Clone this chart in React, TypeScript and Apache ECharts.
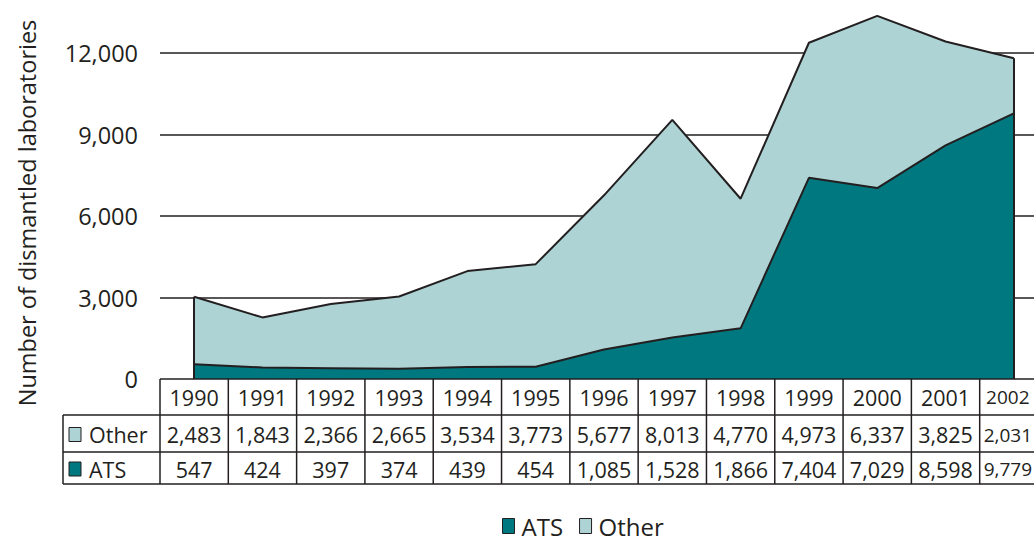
import React, { useEffect, useRef } from 'react';
import * as echarts from 'echarts';

const years = ['1990', '1991', '1992', '1993', '1994', '1995', '1996', '1997', '1998', '1999', '2000', '2001', '2002'];
const ats = [547, 424, 397, 374, 439, 454, 1085, 1528, 1866, 7404, 7029, 8598, 9779];
const other = [2483, 1843, 2366, 2665, 3534, 3773, 5677, 8013, 4770, 4973, 6337, 3825, 2031];
const seriesNames = ['ATS', 'Other'];
const yAxisTitle = 'Number of dismantled laboratories';
const yMin = 0;
const yMax = 13500;
const yStep = 3000;

const FONT = '"Open Sans", "Noto Sans", sans-serif';
const INK = '#231f20';
const DARK = '#00787f';
const LIGHT = '#aed3d4';
const PAGE_W = 1034;

const fmt = (v: number) => v.toLocaleString('en-US');

export default function App() {
  const ref = useRef<HTMLDivElement>(null);
  useEffect(() => {
    const chart = echarts.init(ref.current!, null, { renderer: 'svg' });
    const totals = ats.map((a, i) => a + other[i]);
    const last = years.length - 1;
    chart.setOption({
      animation: false,
      textStyle: { fontFamily: FONT },
      grid: { left: 160, width: 888, top: 12.25, height: 366.75, containLabel: false, outerBoundsMode: 'none' },
      legend: {
        data: seriesNames,
        top: 509,
        left: 497,
        icon: 'rect',
        itemWidth: 12,
        itemHeight: 15,
        itemGap: 16,
        itemStyle: { borderColor: INK, borderWidth: 1 },
        textStyle: { fontSize: 24, color: INK, fontFamily: FONT, padding: [0, 0, 0, 2] },
      },
      xAxis: {
        type: 'category',
        data: years,
        boundaryGap: true,
        axisLine: { show: false },
        axisTick: { show: false },
        axisLabel: { show: false },
        splitLine: { show: false },
      },
      yAxis: {
        type: 'value',
        min: yMin,
        max: yMax,
        interval: yStep,
        axisLine: { show: false },
        axisTick: { show: false },
        axisLabel: {
          showMaxLabel: false,
          fontSize: 23.5,
          color: INK,
          fontFamily: FONT,
          margin: 22,
          formatter: (v: number) => fmt(v),
        },
        splitLine: { show: true, showMaxLine: false, showMinLine: false, lineStyle: { color: INK, width: 1.5 } },
      },
      series: [
        {
          name: 'ATS',
          type: 'line',
          stack: 'total',
          data: ats,
          symbol: 'none',
          itemStyle: { color: DARK },
          lineStyle: { color: INK, width: 2 },
          areaStyle: { color: DARK, opacity: 1 },
          z: 3,
        },
        {
          name: 'Other',
          type: 'line',
          stack: 'total',
          data: other,
          symbol: 'none',
          itemStyle: { color: LIGHT },
          lineStyle: { color: INK, width: 2 },
          areaStyle: { color: LIGHT, opacity: 1 },
          z: 2,
          markLine: {
            silent: true,
            symbol: 'none',
            label: { show: false },
            lineStyle: { color: INK, width: 2, type: 'solid' },
            data: [
              [{ coord: [years[0], 0] }, { coord: [years[0], totals[0]] }],
              [{ coord: [years[last], 0] }, { coord: [years[last], totals[last]] }],
            ],
          },
        },
      ],
    });

    const cx0 = chart.convertToPixel({ xAxisIndex: 0 }, years[0]) as number;
    const cx1 = chart.convertToPixel({ xAxisIndex: 0 }, years[1]) as number;
    const band = cx1 - cx0;
    const tableLeft = cx0 - band / 2;
    const yZero = chart.convertToPixel({ yAxisIndex: 0 }, 0) as number;
    const rowH = [36, 37, 32];
    const rowY = [yZero, yZero + rowH[0], yZero + rowH[0] + rowH[1], yZero + rowH[0] + rowH[1] + rowH[2]];
    const labelLeft = 63;
    const tableRight = tableLeft + band * years.length;
    const els: any[] = [];
    const line = (x1: number, y1: number, x2: number, y2: number) =>
      els.push({ type: 'line', shape: { x1, y1, x2, y2 }, style: { stroke: INK, lineWidth: 1.5 }, z: 10 });
    const txt = (text: string, x: number, y: number, align = 'center', size = 21.5) =>
      els.push({
        type: 'text',
        z: 10,
        style: { text, x, y, align, verticalAlign: 'middle', fontSize: size, fontFamily: FONT, fill: INK },
      });
    // cell text: centred; a column that runs past the page edge gets its text centred in the visible part
    const cellTxt = (text: string, i: number, y: number) => {
      const colLeft = tableLeft + band * i;
      const colRight = colLeft + band;
      if (colRight > PAGE_W) txt(text, (colLeft + PAGE_W) / 2 + 1, y, 'center', 19);
      else txt(text, colLeft + band / 2, y);
    };
    line(tableLeft, rowY[0], tableRight, rowY[0]);
    for (let r = 1; r < 4; r++) line(labelLeft, rowY[r], tableRight, rowY[r]);
    for (let k = 0; k <= years.length; k++) line(tableLeft + k * band, rowY[0], tableLeft + k * band, rowY[3]);
    line(labelLeft, rowY[1], labelLeft, rowY[3]);
    const rowsData = [
      { name: 'Other', vals: other, color: LIGHT },
      { name: 'ATS', vals: ats, color: DARK },
    ];
    years.forEach((y, i) => cellTxt(y, i, (rowY[0] + rowY[1]) / 2));
    rowsData.forEach((row, r) => {
      const mid = (rowY[r + 1] + rowY[r + 2]) / 2 + 1;
      els.push({
        type: 'rect',
        z: 10,
        shape: { x: labelLeft + 6, y: mid - 7, width: 12, height: 14 },
        style: { fill: row.color, stroke: INK, lineWidth: 1 },
      });
      txt(row.name, labelLeft + 26, mid, 'left');
      row.vals.forEach((v, i) => cellTxt(fmt(v), i, mid));
    });
    els.push({
      type: 'text',
      x: 27,
      y: 213,
      rotation: Math.PI / 2,
      style: { text: yAxisTitle, align: 'center', verticalAlign: 'middle', fontSize: 23.5, fontFamily: FONT, fill: INK },
    });
    chart.setOption({ graphic: els });
    return () => chart.dispose();
  }, []);
  return <div ref={ref} style={{ position: 'absolute', left: 0, top: 0, width: PAGE_W, height: 541 }} />;
}
